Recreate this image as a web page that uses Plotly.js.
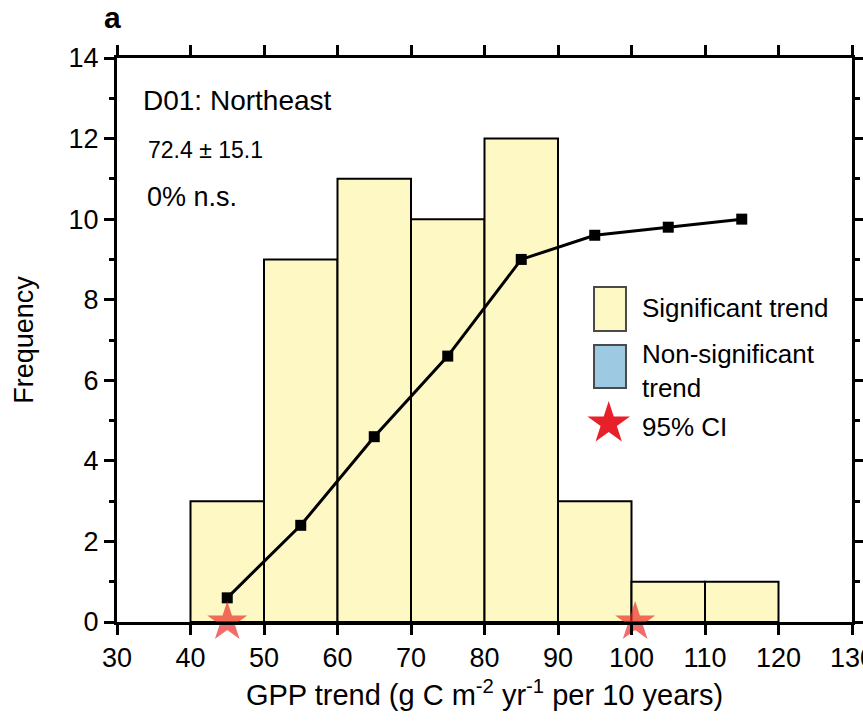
<!DOCTYPE html>
<html><head><meta charset="utf-8">
<script src="https://cdn.plot.ly/plotly-3.0.1.min.js"></script>
<style>html,body{margin:0;padding:0;background:#fff}</style>
</head><body><div id="chart" style="width:863px;height:723px"></div>
<script>
// Data
const binCenters = [45, 55, 65, 75, 85, 95, 105, 115];
const binCounts  = [3, 9, 11, 10, 12, 3, 1, 1];
const cumX = [45, 55, 65, 75, 85, 95, 105, 115];
const cumY = [0.6, 2.4, 4.6, 6.6, 9.0, 9.6, 9.8, 10.0];
const ciX = [45, 100.5];
const ciY = [0, 0];
const xTicks = [30, 40, 50, 60, 70, 80, 90, 100, 110, 120, 130];
const yTicks = [0, 2, 4, 6, 8, 10, 12, 14];

const FONT = '"Liberation Sans", Arial, sans-serif';
const YELLOW = '#FEF8C4';
const BLUE = '#9DCAE2';

const traces = [
  {type:'bar', x:binCenters, y:binCounts, width:10,
   marker:{color:YELLOW, line:{color:'#000', width:2}}, showlegend:false, hoverinfo:'skip'},
  {type:'scatter', mode:'lines+markers', x:cumX, y:cumY,
   line:{color:'#000', width:3}, marker:{symbol:'square', size:11, color:'#000'},
   showlegend:false, cliponaxis:false},
  {type:'scatter', mode:'markers', x:ciX, y:ciY,
   marker:{symbol:'star', size:30, color:'rgba(236,40,36,0.68)', line:{width:0}},
   showlegend:false, cliponaxis:false},
  // legend key star (overlay unit axes)
  {type:'scatter', mode:'markers', x:[0.669], y:[0.352], xaxis:'x2', yaxis:'y2',
   marker:{symbol:'star', size:32, color:'#E8202A', line:{width:0}},
   showlegend:false, cliponaxis:false, hoverinfo:'skip'}
];

const axisCommon = {
  showgrid:false, zeroline:false, showline:true, linecolor:'#000', linewidth:3,
  ticks:'outside', ticklen:10, tickwidth:3, tickcolor:'#000', mirror:'ticks',
  tickfont:{family:FONT, size:27, color:'#000'}
};

const layout = {
  width:863, height:723,
  margin:{l:117, r:11, t:58, b:101},
  paper_bgcolor:'#fff', plot_bgcolor:'#fff',
  font:{family:FONT, color:'#000'},
  bargap:0,
  xaxis:Object.assign({}, axisCommon, {
    range:[30,130], tickvals:xTicks, ticktext:xTicks.map(String),
    title:{text:'GPP trend (g C m<sup>-2</sup> yr<sup>-1</sup> per 10 years)', font:{family:FONT, size:29, color:'#000'}, standoff:13}
  }),
  yaxis:Object.assign({}, axisCommon, {
    range:[0,14], tickvals:yTicks, ticktext:yTicks.map(String),
    minor:{dtick:1, ticks:'outside', ticklen:5, tickwidth:3, tickcolor:'#000'},
    title:{text:'Frequency', font:{family:FONT, size:27, color:'#000'}, standoff:28}
  }),
  xaxis2:{overlaying:'x', range:[0,1], visible:false, fixedrange:true},
  yaxis2:{overlaying:'y', range:[0,1], visible:false, fixedrange:true},
  shapes:[
    {type:'rect', xref:'paper', yref:'paper', x0:0.649, x1:0.6925, y0:0.516, y1:0.594,
     fillcolor:YELLOW, line:{color:'#4a4a4a', width:2}},
    {type:'rect', xref:'paper', yref:'paper', x0:0.649, x1:0.6925, y0:0.415, y1:0.491,
     fillcolor:BLUE, line:{color:'#4a4a4a', width:2}}
  ],
  annotations:[
    {text:'<b>a</b>', xref:'paper', yref:'paper', x:-0.020, y:1.072, xanchor:'left', yanchor:'middle',
     showarrow:false, font:{family:FONT, size:30, color:'#000'}},
    {text:'130', xref:'x', yref:'paper', x:130, y:-0.0335, xanchor:'center', yanchor:'top',
     showarrow:false, font:{family:FONT, size:27, color:'#000'}},
    {text:'D01: Northeast', xref:'paper', yref:'paper', x:0.033, y:0.924, xanchor:'left', yanchor:'middle',
     showarrow:false, font:{family:FONT, size:28, color:'#000'}},
    {text:'72.4 ± 15.1', xref:'paper', yref:'paper', x:0.040, y:0.836, xanchor:'left', yanchor:'middle',
     showarrow:false, font:{family:FONT, size:23, color:'#000'}},
    {text:'0% n.s.', xref:'paper', yref:'paper', x:0.038, y:0.753, xanchor:'left', yanchor:'middle',
     showarrow:false, font:{family:FONT, size:27, color:'#000'}},
    {text:'Significant trend', xref:'paper', yref:'paper', x:0.712, y:0.557, xanchor:'left', yanchor:'middle',
     showarrow:false, font:{family:FONT, size:26, color:'#000'}},
    {text:'Non-significant<br>trend', xref:'paper', yref:'paper', x:0.712, y:0.445, xanchor:'left', yanchor:'middle',
     align:'left', showarrow:false, font:{family:FONT, size:26, color:'#000'}},
    {text:'95% CI', xref:'paper', yref:'paper', x:0.712, y:0.346, xanchor:'left', yanchor:'middle',
     showarrow:false, font:{family:FONT, size:26, color:'#000'}}
  ]
};

Plotly.newPlot('chart', traces, layout, {staticPlot:true, displayModeBar:false});
</script></body></html>
